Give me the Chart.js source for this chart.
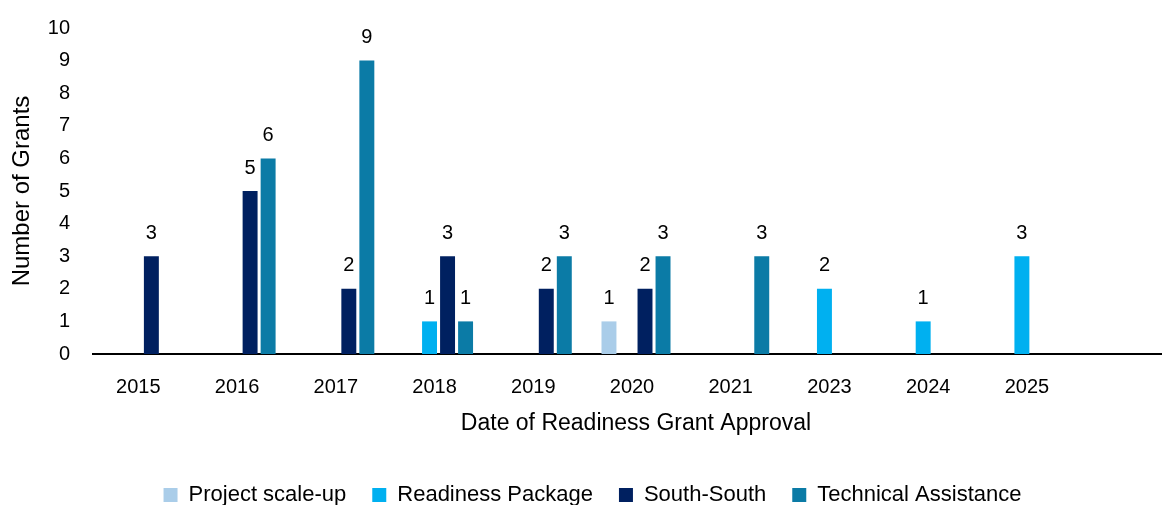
<!DOCTYPE html>
<html>
<head>
<meta charset="utf-8">
<script src="https://cdn.jsdelivr.net/npm/chart.js@4.4.1/dist/chart.umd.min.js"></script>
<style>
html,body{margin:0;padding:0;background:#fff;overflow:hidden;}
#clip{width:1162px;height:505px;overflow:hidden;position:relative;}
#wrap{width:1188px;height:516px;position:absolute;left:0;top:0;}
</style>
</head>
<body>
<div id="clip"><div id="wrap"><canvas id="c"></canvas></div></div>
<script>
const categories = ['2015','2016','2017','2018','2019','2020','2021','2023','2024','2025',''];
const projectScaleUp      = [null,null,null,null,null,1,null,null,null,null,null];
const readinessPackage    = [null,null,null,1,null,null,null,2,1,3,null];
const southSouth          = [3,5,2,3,2,2,null,null,null,null,null];
const technicalAssistance = [null,6,9,1,3,3,3,null,null,null,null];
const yTicks = [0,1,2,3,4,5,6,7,8,9,10];

const FONT = "'Liberation Sans', Arial, sans-serif";

const labelPlugin = {
  id: 'barLabels',
  afterDatasetsDraw(chart) {
    const ctx = chart.ctx;
    ctx.save();
    ctx.font = "20px " + FONT;
    ctx.fillStyle = '#000';
    ctx.textAlign = 'center';
    ctx.textBaseline = 'middle';
    chart.data.datasets.forEach((ds, di) => {
      const meta = chart.getDatasetMeta(di);
      meta.data.forEach((bar, i) => {
        const v = ds.data[i];
        if (v === null || v === undefined) return;
        ctx.fillText(String(v), bar.x, bar.y - 23);
      });
    });
    ctx.restore();
  }
};

new Chart(document.getElementById('c'), {
  type: 'bar',
  data: {
    labels: categories,
    datasets: [
      {label: 'Project scale-up', data: projectScaleUp, backgroundColor: '#AACDE9'},
      {label: 'Readiness Package', data: readinessPackage, backgroundColor: '#00B0F0'},
      {label: 'South-South', data: southSouth, backgroundColor: '#002060'},
      {label: 'Technical Assistance', data: technicalAssistance, backgroundColor: '#0B7BA6'}
    ]
  },
  options: {
    responsive: true,
    maintainAspectRatio: false,
    animation: false,
    datasets: {bar: {categoryPercentage: 0.73, barPercentage: 0.83}},
    layout: {padding: {top: 28, right: 9, left: 6, bottom: 0}},
    plugins: {
      legend: {
        position: 'bottom',
        labels: {
          boxWidth: 14, boxHeight: 14, padding: 26,
          color: '#000',
          font: {family: FONT, size: 22}
        }
      },
      tooltip: {enabled: false}
    },
    scales: {
      x: {
        afterFit(scale) { scale.height = 104; },
        grid: {display: false, drawTicks: false},
        border: {display: true, color: '#000', width: 2},
        ticks: {color: '#000', padding: 21, labelOffset: -4, font: {family: FONT, size: 20}},
        title: {display: true, text: 'Date of Readiness Grant Approval', color: '#000',
                font: {family: FONT, size: 23}, padding: {top: 4, bottom: 21}}
      },
      y: {
        min: 0, max: 10,
        afterBuildTicks(axis) { axis.ticks = yTicks.map(v => ({value: v})); },
        afterFit(scale) { scale.width = 87; scale.paddingTop = 0; scale.paddingBottom = 0; },
        grid: {display: false, drawTicks: false},
        border: {display: false},
        ticks: {color: '#000', padding: 23, font: {family: FONT, size: 20}},
        title: {display: true, text: 'Number of Grants', color: '#000',
                font: {family: FONT, size: 24}, padding: {top: 2, bottom: 4}}
      }
    }
  },
  plugins: [labelPlugin]
});
</script>
</body>
</html>
